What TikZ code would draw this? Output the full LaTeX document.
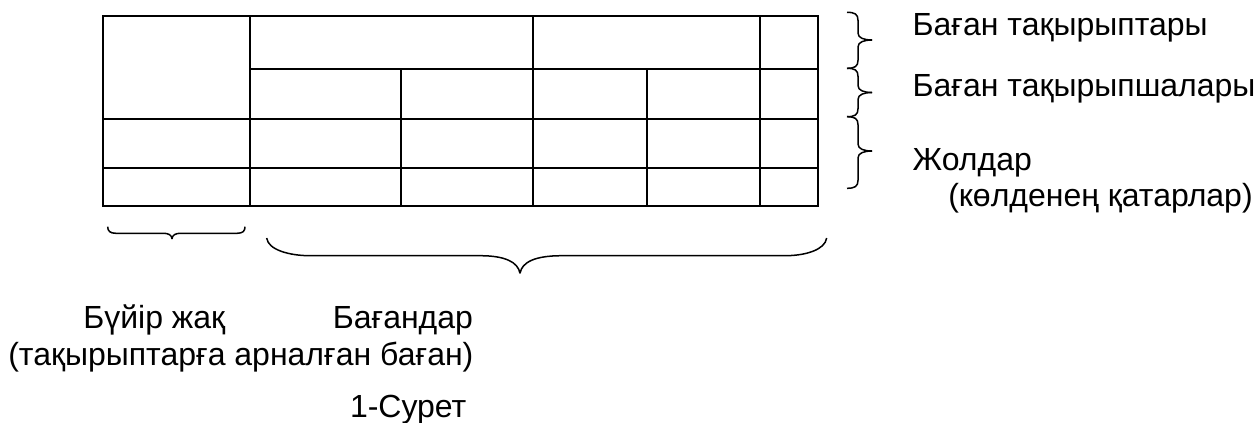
\documentclass[tikz,border=0pt]{standalone}
\usepackage{fontspec}
\setmainfont{Liberation Sans}
\tikzset{
  outer/.style={line width=2.2pt},
  inner/.style={line width=1.7pt},
  bracepath/.style={line width=1.5pt},
  lbl/.style={inner sep=0pt, outer sep=0pt, font=\fontsize{32}{38}\selectfont}
}
\begin{document}
\begin{tikzpicture}[x=1pt,y=-1pt]
\useasboundingbox (0,0) rectangle (1256,423);
% table grid
\draw[inner] (250,15.7) -- (250,205.7);
\draw[inner] (250,69) -- (817.7,69);
\draw[inner] (102.7,119.3) -- (817.7,119.3);
\draw[inner] (102.7,167.7) -- (817.7,167.7);
\draw[inner] (401,69) -- (401,205.7);
\draw[inner] (533.3,15.7) -- (533.3,205.7);
\draw[inner] (646.7,69) -- (646.7,205.7);
\draw[inner] (760,15.7) -- (760,205.7);
\draw[outer] (102.7,15.7) rectangle (817.7,205.7);
% right braces
\foreach \ya/\ym/\yb in {12.3/40/68.3, 68.3/92.5/116.7, 116.7/151/188.3}{
  \draw[bracepath] (847,\ya) .. controls (855,\ya) and (858,\ya+2) .. (858,\ya+8)
     -- (858,\ym-7) .. controls (858,\ym-2) and (864,\ym) .. (872,\ym);
  \draw[bracepath] (872,\ym) .. controls (864,\ym) and (858,\ym+2) .. (858,\ym+7)
     -- (858,\yb-8) .. controls (858,\yb-2) and (855,\yb) .. (847,\yb);
}
% bottom small brace
\draw[bracepath] (107.7,226.7) .. controls (107.7,231) and (110,233.3) .. (116,233.3)
   -- (164,233.3) .. controls (168,233.3) and (172,235) .. (172,239);
\draw[bracepath] (172,239) .. controls (172,235) and (176,233.3) .. (180,233.3)
   -- (237,233.3) .. controls (243,233.3) and (245,231) .. (245,226.7);
% bottom big brace
\draw[bracepath] (266.7,238) .. controls (268,250) and (290,255.7) .. (310,255.7)
   -- (480,255.7) .. controls (505,255.7) and (518,262) .. (520,273.3);
\draw[bracepath] (520,273.3) .. controls (522,262) and (535,255.7) .. (562,255.7)
   -- (785,255.7) .. controls (805,255.7) and (825,250) .. (826.7,238);
% labels
\node[lbl, anchor=base west] (t1) at (912.7,35.7) {Баған тақырыптары};
\node[lbl, anchor=base west] (t2) at (912.7,96.7) {Баған тақырыпшалары};
\node[lbl, anchor=base west] (t3) at (912.7,170) {Жолдар};
\node[lbl, anchor=base west] (t4) at (948.3,206) {(көлденең қатарлар)};
\node[lbl, anchor=base west] (b1) at (83.3,328) {Бүйір жақ};
\node[lbl, anchor=base east] (b2) at (473,328) {Бағандар};
\node[lbl, anchor=base west] (b3) at (8.3,365) {(тақырыптарға арналған баған)};
\node[lbl, anchor=base west] (b4) at (350,417) {1-Сурет};
\end{tikzpicture}
\end{document}
